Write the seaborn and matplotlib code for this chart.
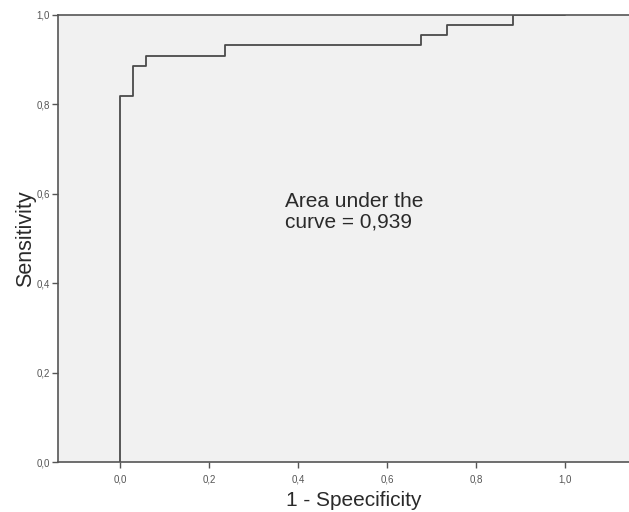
import matplotlib
matplotlib.use('Agg')
import matplotlib.pyplot as plt
import seaborn as sns
import pandas as pd
from matplotlib.ticker import FuncFormatter

# ROC step points (false positive rate, true positive rate)
fpr = [0, 0, 1/34, 2/34, 8/34, 23/34, 25/34, 30/34, 1.0]
tpr = [0, 36/44, 39/44, 40/44, 41/44, 42/44, 43/44, 1.0, 1.0]
auc_label = "Area under the\ncurve = 0,939"
x_ticks = [0.0, 0.2, 0.4, 0.6, 0.8, 1.0]
y_ticks = [0.0, 0.2, 0.4, 0.6, 0.8, 1.0]

sns.set_style('ticks')
plt.rcParams['font.family'] = ['Liberation Sans', 'DejaVu Sans']

df = pd.DataFrame({'fpr': fpr, 'tpr': tpr})

fig = plt.figure(figsize=(6.29, 5.12), dpi=100)
# axes runs past the right edge of the figure, like the original export
ax = fig.add_axes([58/629, 50/512, 592/629, 447/512])
ax.set_facecolor('#f1f1f1')

sns.lineplot(data=df, x='fpr', y='tpr', ax=ax, color='#4a4a4a', linewidth=1.3,
             drawstyle='steps-post', sort=False, estimator=None)

ax.set_xlim(-0.139, 1.191)
ax.set_ylim(0, 1.0)
ax.set_xticks(x_ticks)
ax.set_yticks(y_ticks)
comma = FuncFormatter(lambda v, p: f"{v:.1f}".replace('.', ','))
ax.xaxis.set_major_formatter(comma)
ax.yaxis.set_major_formatter(comma)
ax.tick_params(axis='both', labelsize=7, colors='#555555', length=4, width=1,
               direction='out', labelcolor='#555555', pad=2)
ax.tick_params(axis='x', pad=5)

for side in ['left', 'bottom', 'top']:
    ax.spines[side].set_color('#555555')
    ax.spines[side].set_linewidth(1.2)
ax.spines['right'].set_visible(False)

ax.set_xlabel('1 - Speecificity', fontsize=15, color='#2a2a2a', labelpad=5)
ax.set_ylabel('Sensitivity', fontsize=15.5, color='#2a2a2a', labelpad=0)

ax.text(0.371, 0.605, auc_label, fontsize=15, color='#2a2a2a', va='top', ha='left',
        linespacing=1.15)

fig.savefig('out.png', dpi=100)
